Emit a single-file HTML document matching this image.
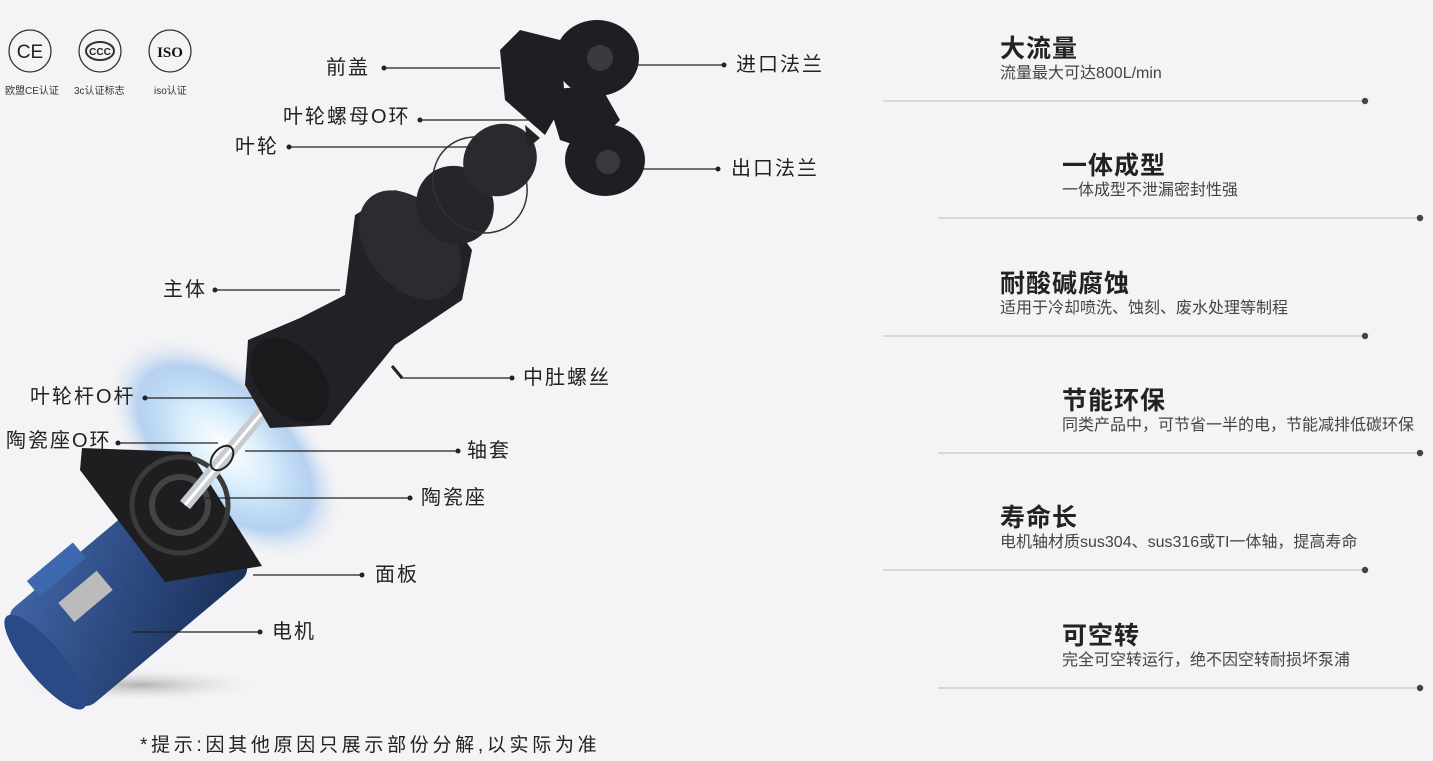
<!DOCTYPE html>
<html><head><meta charset="utf-8"><style>
html,body{margin:0;padding:0}
body{width:1433px;height:761px;background:#f4f4f6;position:relative;overflow:hidden;font-family:"Liberation Sans","Noto Sans CJK SC",sans-serif;color:#222}
.t{position:absolute;font-size:20px;letter-spacing:2px;color:#222;white-space:nowrap;line-height:1}
.h{position:absolute;font-size:25px;letter-spacing:1px;font-weight:bold;color:#222;white-space:nowrap;line-height:1}
.s{position:absolute;font-size:16px;color:#444;white-space:nowrap;line-height:1}
.c{position:absolute;font-size:10px;color:#333;white-space:nowrap}
svg{position:absolute;left:0;top:0}
</style></head><body>
<svg width="1433" height="761">
<defs>
<radialGradient id="sw" cx="50%" cy="50%" r="50%">
<stop offset="0" stop-color="#ffffff"/><stop offset="0.4" stop-color="#d6ecfb"/><stop offset="0.75" stop-color="#9cc3ee" stop-opacity="0.7"/><stop offset="1" stop-color="#e0e6f0" stop-opacity="0"/></radialGradient>
<radialGradient id="sh" cx="50%" cy="50%" r="50%"><stop offset="0" stop-color="#888" stop-opacity="0.6"/><stop offset="1" stop-color="#ddd" stop-opacity="0"/></radialGradient>
<linearGradient id="mb" x1="0" y1="0" x2="1" y2="1"><stop offset="0" stop-color="#3f64a6"/><stop offset="1" stop-color="#1a2f58"/></linearGradient>
</defs>
<g fill="none" stroke="#333" stroke-width="1.3">
<circle cx="30" cy="51" r="21"/><circle cx="100" cy="51" r="21"/><circle cx="170" cy="51" r="21"/>
<ellipse cx="100" cy="51" rx="14" ry="9" stroke-width="2"/></g>
<text x="30" y="58" font-size="19" text-anchor="middle" font-family="Liberation Sans" fill="#222">CE</text>
<text x="100" y="55" font-size="10" text-anchor="middle" font-weight="bold" fill="#222">CCC</text>
<text x="170" y="57" font-size="15" text-anchor="middle" font-weight="bold" font-family="Liberation Serif" fill="#111">ISO</text>
<ellipse cx="140" cy="685" rx="120" ry="16" fill="url(#sh)"/>
<ellipse cx="225" cy="448" rx="140" ry="78" transform="rotate(42 225 448)" fill="url(#sw)"/>
<g transform="rotate(-40 130 595)">
<rect x="20" y="530" width="220" height="125" rx="14" fill="url(#mb)"/>
<rect x="60" y="518" width="60" height="20" fill="#3d68ad"/>
<rect x="70" y="555" width="50" height="25" fill="#bbb"/>
<ellipse cx="22" cy="592" rx="18" ry="60" fill="#2a4a86"/>
</g>
<polygon points="82,448 190,452 262,566 165,582 80,470" fill="#1e1e20"/>
<circle cx="180" cy="505" r="28" fill="none" stroke="#444" stroke-width="6"/>
<circle cx="180" cy="505" r="48" fill="none" stroke="#3a3a3a" stroke-width="5"/>
<line x1="185" y1="505" x2="285" y2="385" stroke="#c8ccd2" stroke-width="13"/>
<line x1="185" y1="505" x2="285" y2="385" stroke="#fff" stroke-width="3"/>
<ellipse cx="222" cy="458" rx="14" ry="9" transform="rotate(-50 222 458)" fill="none" stroke="#222" stroke-width="2"/>
<polygon points="248,340 300,318 345,295 355,215 395,190 440,205 472,250 462,300 395,345 330,425 270,428 245,385" fill="#222226"/>
<ellipse cx="410" cy="245" rx="42" ry="62" transform="rotate(-40 410 245)" fill="#2c2c30"/>
<ellipse cx="290" cy="380" rx="32" ry="48" transform="rotate(-40 290 380)" fill="#1a1a1c"/>
<line x1="392" y1="366" x2="402" y2="378" stroke="#222" stroke-width="3"/>
<ellipse cx="455" cy="205" rx="38" ry="40" transform="rotate(-40 455 205)" fill="#26262a"/>
<ellipse cx="480" cy="185" rx="45" ry="50" transform="rotate(-40 480 185)" fill="none" stroke="#333" stroke-width="1.5"/>
<ellipse cx="500" cy="160" rx="38" ry="35" transform="rotate(-40 500 160)" fill="#2a2a2e"/>
<polygon points="525,125 540,138 528,148" fill="#222"/>
<polygon points="500,50 520,30 560,40 565,100 545,135 505,100" fill="#1f1f23"/>
<ellipse cx="597" cy="58" rx="42" ry="38" fill="#1f1f23"/>
<polygon points="545,90 600,85 620,120 590,150 560,140" fill="#1f1f23"/>
<ellipse cx="605" cy="160" rx="40" ry="36" fill="#1f1f23"/>
<circle cx="600" cy="58" r="13" fill="#3a3a3e"/><circle cx="608" cy="162" r="12" fill="#3a3a3e"/>
<g stroke="#222" stroke-width="1.2">
<line x1="384" y1="68" x2="500" y2="68"/><line x1="630" y1="65" x2="724" y2="65"/>
<line x1="420" y1="120" x2="530" y2="120"/><line x1="289" y1="147" x2="470" y2="147"/>
<line x1="640" y1="169" x2="718" y2="169"/><line x1="215" y1="290" x2="340" y2="290"/>
<line x1="400" y1="378" x2="512" y2="378"/><line x1="145" y1="398" x2="265" y2="398"/>
<line x1="118" y1="443" x2="218" y2="443"/><line x1="245" y1="451" x2="458" y2="451"/>
<line x1="205" y1="498" x2="410" y2="498"/><line x1="253" y1="575" x2="362" y2="575"/>
<line x1="133" y1="632" x2="260" y2="632"/>
</g>
<g fill="#222">
<circle cx="384" cy="68" r="2.5"/><circle cx="724" cy="65" r="2.5"/><circle cx="420" cy="120" r="2.5"/><circle cx="289" cy="147" r="2.5"/>
<circle cx="718" cy="169" r="2.5"/><circle cx="215" cy="290" r="2.5"/><circle cx="512" cy="378" r="2.5"/><circle cx="145" cy="398" r="2.5"/>
<circle cx="118" cy="443" r="2.5"/><circle cx="458" cy="451" r="2.5"/><circle cx="410" cy="498" r="2.5"/><circle cx="362" cy="575" r="2.5"/><circle cx="260" cy="632" r="2.5"/>
</g>
<g stroke="#c8c8cc" stroke-width="1.2">
<line x1="883" y1="101" x2="1365" y2="101"/><line x1="938" y1="218" x2="1420" y2="218"/>
<line x1="883" y1="336" x2="1365" y2="336"/><line x1="938" y1="453" x2="1420" y2="453"/>
<line x1="883" y1="570" x2="1365" y2="570"/><line x1="938" y1="688" x2="1420" y2="688"/>
</g>
<g fill="#444">
<circle cx="1365" cy="101" r="3.2"/><circle cx="1420" cy="218" r="3.2"/><circle cx="1365" cy="336" r="3.2"/>
<circle cx="1420" cy="453" r="3.2"/><circle cx="1365" cy="570" r="3.2"/><circle cx="1420" cy="688" r="3.2"/>
</g>
</svg>
<div class="c" style="left:5px;top:82px">欧盟CE认证</div>
<div class="c" style="left:74px;top:82px">3c认证标志</div>
<div class="c" style="left:154px;top:82px">iso认证</div>

<div class="t" style="left:326px;top:58px">前盖</div>
<div class="t" style="left:736px;top:55px">进口法兰</div>
<div class="t" style="left:283px;top:107px">叶轮螺母O环</div>
<div class="t" style="left:235px;top:137px">叶轮</div>
<div class="t" style="left:731px;top:159px">出口法兰</div>
<div class="t" style="left:163px;top:280px">主体</div>
<div class="t" style="left:523px;top:368px">中肚螺丝</div>
<div class="t" style="left:30px;top:387px">叶轮杆O杆</div>
<div class="t" style="left:6px;top:431px">陶瓷座O环</div>
<div class="t" style="left:467px;top:441px">轴套</div>
<div class="t" style="left:421px;top:488px">陶瓷座</div>
<div class="t" style="left:375px;top:565px">面板</div>
<div class="t" style="left:272px;top:622px">电机</div>
<div class="t" style="left:140px;top:736px;font-size:19px;letter-spacing:3.7px">*提示:因其他原因只展示部份分解,以实际为准</div>

<div class="h" style="left:1000px;top:37px">大流量</div>
<div class="s" style="left:1000px;top:66px">流量最大可达800L/min</div>
<div class="h" style="left:1062px;top:154px">一体成型</div>
<div class="s" style="left:1062px;top:183px">一体成型不泄漏密封性强</div>
<div class="h" style="left:1000px;top:272px">耐酸碱腐蚀</div>
<div class="s" style="left:1000px;top:301px">适用于冷却喷洗、蚀刻、废水处理等制程</div>
<div class="h" style="left:1062px;top:389px">节能环保</div>
<div class="s" style="left:1062px;top:418px">同类产品中，可节省一半的电，节能减排低碳环保</div>
<div class="h" style="left:1000px;top:506px">寿命长</div>
<div class="s" style="left:1000px;top:535px">电机轴材质sus304、sus316或TI一体轴，提高寿命</div>
<div class="h" style="left:1062px;top:624px">可空转</div>
<div class="s" style="left:1062px;top:653px">完全可空转运行，绝不因空转耐损坏泵浦</div>
</body></html>
